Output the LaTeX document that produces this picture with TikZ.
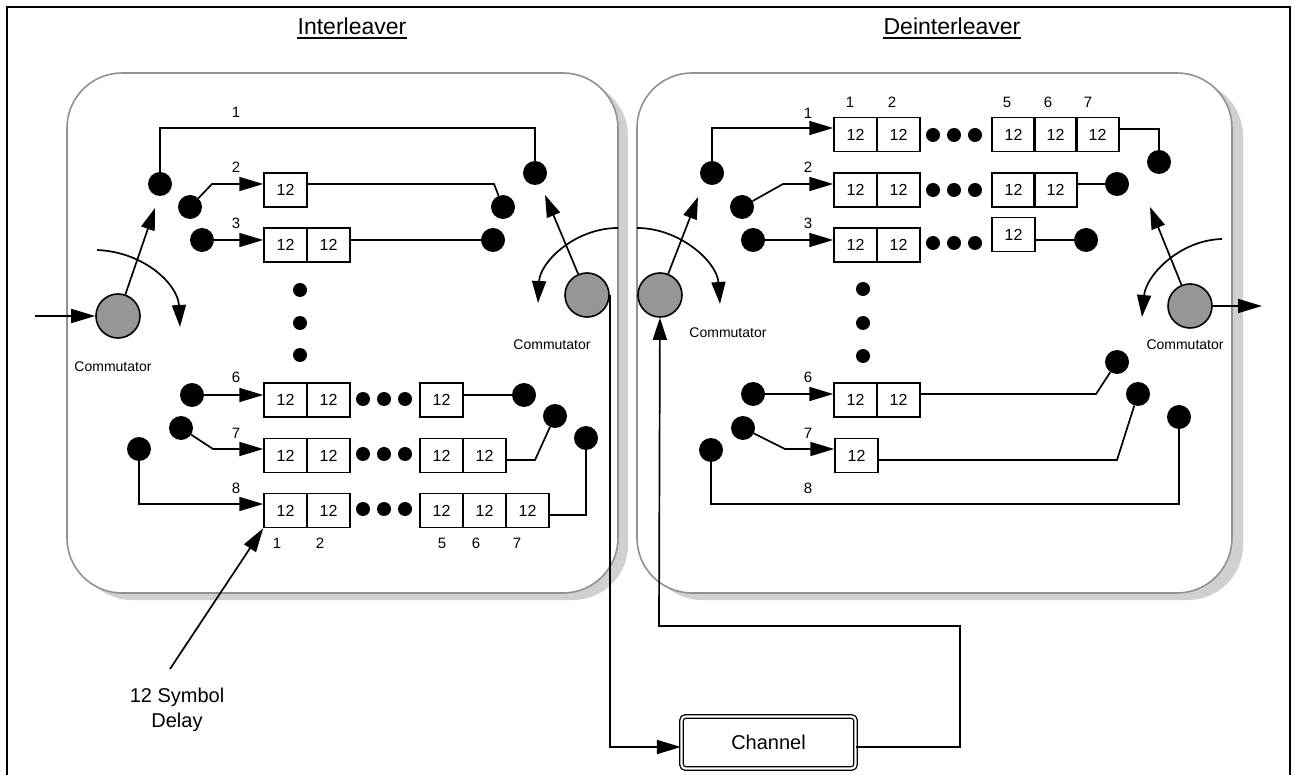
\documentclass[tikz,border=0pt]{standalone}
\usepackage{fontspec}
\setmainfont{Liberation Sans}
\usetikzlibrary{arrows.meta}
\definecolor{commgray}{RGB}{150,150,150}
\definecolor{panelborder}{RGB}{145,145,145}
\definecolor{shadowgray}{RGB}{208,208,208}
\begin{document}
\begin{tikzpicture}[x=1pt,y=-1pt,
 cell/.style={draw,line width=1.5pt,minimum width=43pt,minimum height=34pt,inner sep=0pt,font=\fontsize{16}{16}\selectfont},
 pin/.style={circle,fill=black,minimum size=24pt,inner sep=0pt},
 sdot/.style={circle,fill=black,minimum size=14pt,inner sep=0pt},
 comm/.style={circle,draw,line width=1.6pt,fill=commgray,minimum size=44pt,inner sep=0pt},
 wire/.style={line width=1.7pt},
 arr/.style={wire,-{Triangle[length=24pt,width=14pt]}},
 carr/.style={wire,-{Triangle[length=22pt,width=14pt]}},
 lab/.style={font=\fontsize{15}{15}\selectfont,inner sep=0pt},
 clab/.style={font=\fontsize{14}{14}\selectfont,inner sep=0pt},
 title/.style={font=\fontsize{23}{24}\selectfont,inner sep=0pt},
 panel/.style={fill=white,draw=panelborder,line width=1.6pt,rounded corners=55pt},
 shadow/.style={fill=shadowgray,rounded corners=55pt},
 chan/.style={draw,double,double distance=2.2pt,line width=1.3pt,rounded corners=4pt,minimum width=174pt,minimum height=52pt,inner sep=0pt,font=\fontsize{20}{20}\selectfont},
]
\useasboundingbox (0,0) rectangle (1296,775);
\fill[white] (0,0) rectangle (1296,775);
\draw[line width=2pt] (7,7) rectangle (1290,800);

% panels
\fill[shadow] (77,81) rectangle (628,600);
\draw[panel] (67,73) rectangle (618,593);
\fill[shadow] (647,81) rectangle (1243,600);
\draw[panel] (637,73) rectangle (1232,593);

% titles
\node[title,anchor=base] (tI) at (352,35) {Interleaver};
\draw[line width=2pt] ([yshift=-3.5pt]tI.base west) -- ([yshift=-3.5pt]tI.base east);
\node[title,anchor=base] (tD) at (952,35) {Deinterleaver};
\draw[line width=2pt] ([yshift=-3.5pt]tD.base west) -- ([yshift=-3.5pt]tD.base east);

% ===== Interleaver =====
\node[pin] (iL1) at (160,184) {};
\node[pin] (iL2) at (190,207) {};
\node[pin] (iL3) at (202,240) {};
\node[pin] (iL6) at (192,395) {};
\node[pin] (iL7) at (181,428) {};
\node[pin] (iL8) at (139,449) {};
\node[pin] (iR1) at (535,173) {};
\node[pin] (iR2) at (503,207) {};
\node[pin] (iR3) at (493,240) {};
\node[pin] (iR6) at (524,395) {};
\node[pin] (iR7) at (555,416) {};
\node[pin] (iR8) at (586,438) {};

\node[cell] (iB2a) at (285.5,190) {12};
\node[cell] (iB3a) at (285.5,245) {12};
\node[cell] (iB3b) at (328.5,245) {12};
\node[cell] (iB6a) at (285.5,400) {12};
\node[cell] (iB6b) at (328.5,400) {12};
\node[cell] (iB6e) at (441.5,400) {12};
\node[cell] (iB7a) at (285.5,455.5) {12};
\node[cell] (iB7b) at (328.5,455.5) {12};
\node[cell] (iB7e) at (441.5,455.5) {12};
\node[cell] (iB7f) at (484.5,455.5) {12};
\node[cell] (iB8a) at (285.5,510.5) {12};
\node[cell] (iB8b) at (328.5,510.5) {12};
\node[cell] (iB8e) at (441.5,510.5) {12};
\node[cell] (iB8f) at (484.5,510.5) {12};
\node[cell] (iB8g) at (527.5,510.5) {12};

\foreach \y/\n in {399/6,454/7,509/8}{
  \node[sdot] (iD\n a) at (363,\y) {};
  \node[sdot] (iD\n b) at (384,\y) {};
  \node[sdot] (iD\n c) at (405,\y) {};
}
\node[sdot] (iV1) at (300,290) {};
\node[sdot] (iV2) at (300,323) {};
\node[sdot] (iV3) at (300,355) {};

\draw[wire] (iL1) -- (160,128) -- (535,128) -- (iR1);
\node[lab] (il1) at (236,112) {1};
\draw[arr] (iL2) -- (212,184) -- (iB2a.west |- 0,184);
\draw[wire] (iB2a.east |- 0,184) -- (494,184) -- (iR2);
\node[lab] (il2) at (236,167) {2};
\draw[arr] (iL3) -- (iB3a.west |- 0,240);
\draw[wire] (iB3b.east |- 0,240) -- (iR3);
\node[lab] (il3) at (236,223) {3};
\draw[arr] (iL6) -- (iB6a.west |- 0,395);
\draw[wire] (iB6e.east |- 0,395) -- (iR6);
\node[lab] (il6) at (236,377) {6};
\draw[arr] (iL7) -- (213,449) -- (iB7a.west |- 0,449);
\draw[wire] (iB7f.east |- 0,460) -- (535,460) -- (iR7);
\node[lab] (il7) at (236,433) {7};
\draw[arr] (iL8) -- (139,504) -- (iB8a.west |- 0,504);
\draw[wire] (iB8g.east |- 0,515) -- (586,515) -- (iR8);
\node[lab] (il8) at (236,488) {8};

\node[lab] (ic1) at (277,543) {1};
\node[lab] (ic2) at (320,543) {2};
\node[lab] (ic5) at (442,543) {5};
\node[lab] (ic6) at (476,543) {6};
\node[lab] (ic7) at (517,543) {7};

% interleaver commutators
\node[comm] (iC1) at (118,316) {};
\coordinate (in) at (35,316);
\draw[arr] (in) -- (iC1);
\coordinate (iC1t) at (155,208);
\draw[carr] (iC1) -- (iC1t);
\draw[carr] (97,250) .. controls (145,252) and (178,285) .. (180,327);
\node[clab] (iCl1) at (113,367) {Commutator};

\node[comm] (iC2) at (587,295) {};
\coordinate (iC2t) at (545,195);
\draw[carr] (iC2) -- (iC2t);
\draw[carr] (618,228) .. controls (575,228) and (540,262) .. (538,303);
\node[clab] (iCl2) at (552,345) {Commutator};

% channel
\node[chan] (chan) at (768.5,742.5) {\raisebox{-8pt}{Channel}};
\draw[arr] (iC2.east) -- (iC2.east |- 0,747) -- (chan.west |- 0,747);

% ===== Deinterleaver =====
\node[comm] (dC1) at (660,295) {};
\draw[carr] (chan.east |- 0,747) -- (960,747) -- (960,626) -- (659,626) -- (dC1);
\coordinate (dC1t) at (698,197);
\draw[carr] (dC1) -- (dC1t);
\draw[carr] (637,228) .. controls (680,228) and (717,262) .. (720,304);
\node[clab] (dCl1) at (728,333) {Commutator};

\node[pin] (dL1) at (712,173) {};
\node[pin] (dL2) at (742,207) {};
\node[pin] (dL3) at (753,240) {};
\node[pin] (dL6) at (753,394) {};
\node[pin] (dL7) at (743,428) {};
\node[pin] (dL8) at (711,450) {};
\node[pin] (dR1) at (1159,162) {};
\node[pin] (dR2) at (1117,184) {};
\node[pin] (dR3) at (1086,240) {};
\node[pin] (dR6) at (1117,362) {};
\node[pin] (dR7) at (1138,394) {};
\node[pin] (dR8) at (1179,417) {};

\node[cell] (dB1a) at (855.5,134.5) {12};
\node[cell] (dB1b) at (898.5,134.5) {12};
\node[cell] (dB1e) at (1013.5,134.5) {12};
\node[cell] (dB1f) at (1055.5,134.5) {12};
\node[cell] (dB1g) at (1097.5,134.5) {12};
\node[cell] (dB2a) at (855.5,190) {12};
\node[cell] (dB2b) at (898.5,190) {12};
\node[cell] (dB2e) at (1013.5,190) {12};
\node[cell] (dB2f) at (1055.5,190) {12};
\node[cell] (dB3a) at (855.5,245) {12};
\node[cell] (dB3b) at (898.5,245) {12};
\node[cell] (dB3e) at (1013.5,234.5) {12};
\node[cell] (dB6a) at (855.5,400) {12};
\node[cell] (dB6b) at (898.5,400) {12};
\node[cell] (dB7a) at (856.5,455.5) {12};

\foreach \y/\n in {135/1,190/2,243/3}{
  \node[sdot] (dD\n a) at (933,\y) {};
  \node[sdot] (dD\n b) at (954,\y) {};
  \node[sdot] (dD\n c) at (975,\y) {};
}
\node[sdot] (dV1) at (863,289) {};
\node[sdot] (dV2) at (863,323) {};
\node[sdot] (dV3) at (863,356) {};

\draw[arr] (dL1) -- (712,128) -- (dB1a.west |- 0,128);
\draw[wire] (dB1g.east |- 0,129) -- (1159,129) -- (dR1);
\node[lab] (dl1) at (808,113) {1};
\draw[arr] (dL2) -- (783,184) -- (dB2a.west |- 0,184);
\draw[wire] (dB2f.east |- 0,184) -- (dR2);
\node[lab] (dl2) at (808,167) {2};
\draw[arr] (dL3) -- (dB3a.west |- 0,240);
\draw[wire] (dB3e.east |- 0,240) -- (dR3);
\node[lab] (dl3) at (808,223) {3};
\draw[arr] (dL6) -- (dB6a.west |- 0,394);
\draw[wire] (dB6b.east |- 0,394) -- (1096,394) -- (dR6);
\node[lab] (dl6) at (808,377) {6};
\draw[arr] (dL7) -- (785,449) -- (dB7a.west |- 0,449);
\draw[wire] (dB7a.east |- 0,460) -- (1117,460) -- (dR7);
\node[lab] (dl7) at (808,433) {7};
\draw[wire] (dL8) -- (711,504) -- (1179,504) -- (dR8);
\node[lab] (dl8) at (808,488) {8};

\node[lab] (dc1) at (850,102) {1};
\node[lab] (dc2) at (892,102) {2};
\node[lab] (dc5) at (1007,102) {5};
\node[lab] (dc6) at (1048,102) {6};
\node[lab] (dc7) at (1088,102) {7};

\node[comm] (dC2) at (1190,306) {};
\coordinate (out) at (1262,306);
\draw[arr] (dC2) -- (out);
\coordinate (dC2t) at (1150,207);
\draw[carr] (dC2) -- (dC2t);
\draw[carr] (1222,239) .. controls (1180,240) and (1146,275) .. (1142,317);
\node[clab] (dCl2) at (1185,345) {Commutator};

% delay label
\node[font=\fontsize{20}{25}\selectfont,align=center,inner sep=0pt] (delay) at (177,710) {12 Symbol\\Delay};
\coordinate (delayT) at (170,669);
\draw[arr] (delayT) -- (iB8a.south west);
\end{tikzpicture}
\end{document}
